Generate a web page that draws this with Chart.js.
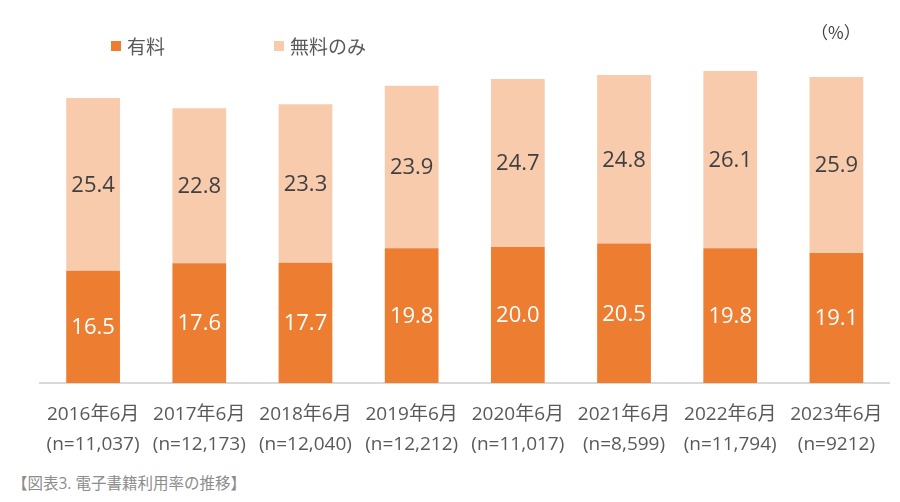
<!DOCTYPE html>
<html>
<head>
<meta charset="utf-8">
<script src="https://cdn.jsdelivr.net/npm/chart.js@4/dist/chart.umd.min.js"></script>
<style>
  html, body { margin: 0; padding: 0; background: #fff; }
  #wrap { position: relative; width: 900px; height: 502px; overflow: hidden; font-family: 'Open Sans', 'Noto Sans CJK JP', sans-serif; }
  #chartBox { position: absolute; left: 0; top: 0; width: 900px; height: 465px; }
  .lg { position: absolute; top: 33px; font-size: 19px; color: #595959; display: flex; align-items: center; line-height: 26px; font-family: 'Noto Sans CJK JP', sans-serif; }
  .sw { width: 10px; height: 10px; display: inline-block; margin-right: 6px; }
  #unit { position: absolute; left: 811px; top: 19px; font-size: 17px; color: #404040; font-family: 'Noto Sans CJK JP', sans-serif; }
  #caption { position: absolute; left: 12px; top: 471px; font-size: 15.5px; color: #8c8c8c; }
</style>
</head>
<body>
<div id="wrap">
  <div id="chartBox"><canvas id="c" width="900" height="465"></canvas></div>
  <div class="lg" id="lg1" style="left:111px;"><span class="sw" id="sw1"></span><span id="lt1"></span></div>
  <div class="lg" id="lg2" style="left:274px;"><span class="sw" id="sw2"></span><span id="lt2"></span></div>
  <div id="unit">（%）</div>
  <div id="caption">【図表3. 電子書籍利用率の推移】</div>
</div>
<script>
const periods = ['2016年6月','2017年6月','2018年6月','2019年6月','2020年6月','2021年6月','2022年6月','2023年6月'];
const sampleSizes = ['(n=11,037)','(n=12,173)','(n=12,040)','(n=12,212)','(n=11,017)','(n=8,599)','(n=11,794)','(n=9212)'];
const paidValues = [16.5, 17.6, 17.7, 19.8, 20.0, 20.5, 19.8, 19.1];
const freeOnlyValues = [25.4, 22.8, 23.3, 23.9, 24.7, 24.8, 26.1, 25.9];
const seriesNames = ['有料', '無料のみ'];

const paidColor = '#ED7D31';
const freeColor = '#F8CBAD';
const fontFamily = '"Open Sans", "Noto Sans CJK JP", sans-serif';

document.getElementById('sw1').style.background = paidColor;
document.getElementById('sw2').style.background = freeColor;
document.getElementById('lt1').textContent = seriesNames[0];
document.getElementById('lt2').textContent = seriesNames[1];

const labels = periods.map((p, i) => [p, sampleSizes[i]]);

const valueLabels = {
  id: 'valueLabels',
  afterDatasetsDraw(chart) {
    const ctx = chart.ctx;
    ctx.save();
    ctx.font = '22px ' + fontFamily;
    ctx.textAlign = 'center';
    ctx.textBaseline = 'middle';
    chart.data.datasets.forEach((ds, di) => {
      const meta = chart.getDatasetMeta(di);
      meta.data.forEach((bar, i) => {
        const p = bar.getCenterPoint();
        ctx.fillStyle = di === 0 ? '#ffffff' : '#404040';
        ctx.fillText(ds.data[i].toFixed(1), p.x, p.y + 1);
      });
    });
    ctx.restore();
  }
};

new Chart(document.getElementById('c'), {
  type: 'bar',
  data: {
    labels: labels,
    datasets: [
      { label: seriesNames[0], data: paidValues, backgroundColor: paidColor, borderWidth: 0 },
      { label: seriesNames[1], data: freeOnlyValues, backgroundColor: freeColor, borderWidth: 0 }
    ]
  },
  options: {
    responsive: false,
    animation: false,
    maintainAspectRatio: false,
    layout: { padding: { left: 40, right: 7, top: 43, bottom: 0 } },
    datasets: { bar: { categoryPercentage: 1.0, barPercentage: 0.506 } },
    plugins: { legend: { display: false }, tooltip: { enabled: false } },
    scales: {
      x: {
        stacked: true,
        grid: { display: false, drawTicks: false },
        border: { display: true, color: '#D9D9D9', width: 2 },
        ticks: {
          color: '#595959',
          padding: 17,
          maxRotation: 0,
          autoSkip: false,
          font: { size: 19, family: fontFamily, lineHeight: 1.58 }
        },
        afterFit(scale) { scale.height = 82; }
      },
      y: {
        stacked: true,
        display: false,
        min: 0,
        max: 50
      }
    }
  },
  plugins: [valueLabels]
});
</script>
</body>
</html>
